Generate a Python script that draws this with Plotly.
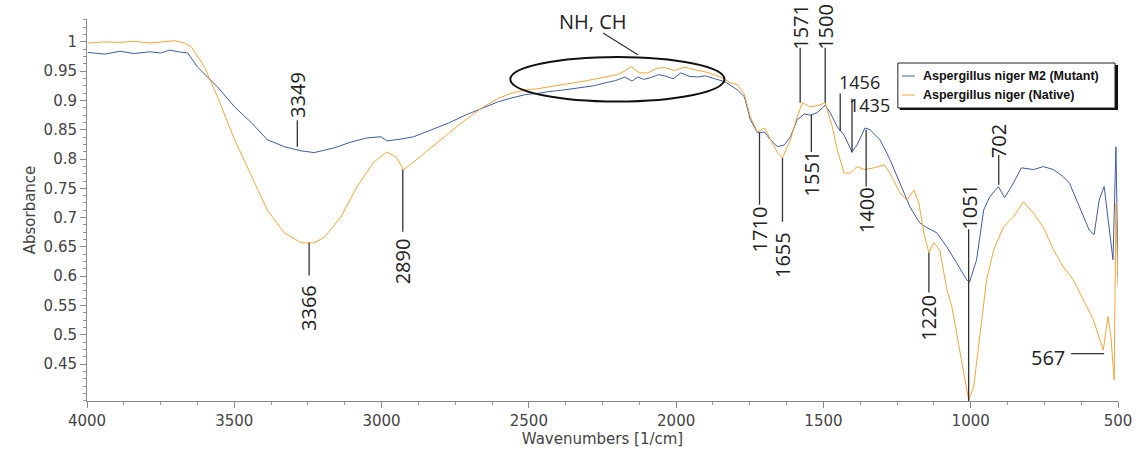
import plotly.graph_objects as go

# ---------------- data ----------------
wn_mutant = [3997, 3940, 3888, 3840, 3787, 3750, 3719, 3690, 3658, 3625, 3557, 3499, 3442, 3388,
             3330, 3273, 3229, 3161, 3104, 3050, 3002, 2982, 2935, 2891, 2830, 2770, 2715, 2660,
             2603, 2560, 2512, 2470, 2434, 2380, 2323, 2280, 2241, 2205, 2174, 2150, 2130, 2110,
             2086, 2060, 2038, 2010, 1984, 1955, 1927, 1900, 1869, 1835, 1792, 1768, 1748, 1724,
             1700, 1680, 1656, 1633, 1612, 1589, 1565, 1545, 1521, 1494, 1477, 1453, 1430, 1403,
             1386, 1359, 1342, 1308, 1274, 1240, 1206, 1173, 1149, 1115, 1081, 1048, 1014, 1004,
             980, 956, 936, 906, 885, 855, 828, 787, 753, 719, 686, 665, 632, 598, 581, 564, 547,
             530, 517, 507, 500]
abs_mutant = [0.982, 0.979, 0.984, 0.980, 0.983, 0.981, 0.986, 0.983, 0.981, 0.957, 0.923, 0.889,
              0.862, 0.833, 0.821, 0.814, 0.811, 0.819, 0.829, 0.836, 0.838, 0.831, 0.834, 0.838,
              0.850, 0.862, 0.875, 0.886, 0.898, 0.904, 0.910, 0.912, 0.915, 0.918, 0.922, 0.925,
              0.930, 0.934, 0.940, 0.933, 0.940, 0.936, 0.939, 0.944, 0.942, 0.937, 0.947, 0.941,
              0.940, 0.942, 0.937, 0.932, 0.918, 0.906, 0.867, 0.845, 0.846, 0.833, 0.821, 0.824,
              0.838, 0.867, 0.877, 0.875, 0.879, 0.892, 0.879, 0.855, 0.841, 0.812, 0.824, 0.853,
              0.850, 0.833, 0.799, 0.759, 0.718, 0.691, 0.683, 0.674, 0.650, 0.623, 0.594, 0.590,
              0.628, 0.713, 0.735, 0.753, 0.734, 0.759, 0.785, 0.782, 0.787, 0.782, 0.770, 0.759,
              0.718, 0.679, 0.671, 0.730, 0.753, 0.679, 0.628, 0.821, 0.599]

wn_native = [3997, 3940, 3888, 3840, 3787, 3740, 3702, 3669, 3645, 3601, 3557, 3499, 3442, 3388,
             3330, 3273, 3229, 3195, 3138, 3083, 3026, 2982, 2952, 2925, 2891, 2830, 2770, 2715,
             2660, 2603, 2560, 2512, 2470, 2434, 2380, 2323, 2280, 2241, 2200, 2175, 2153, 2125,
             2096, 2065, 2038, 2005, 1971, 1935, 1903, 1849, 1815, 1792, 1768, 1748, 1724, 1700,
             1680, 1656, 1639, 1612, 1589, 1572, 1545, 1514, 1494, 1470, 1453, 1430, 1409, 1386,
             1362, 1328, 1294, 1274, 1240, 1217, 1193, 1176, 1159, 1142, 1125, 1105, 1081, 1064,
             1048, 1024, 1007, 990, 970, 946, 922, 889, 855, 821, 787, 753, 719, 686, 652, 618,
             584, 550, 534, 524, 513, 507, 500]
abs_native = [0.998, 1.000, 0.999, 1.001, 0.998, 1.000, 1.002, 0.998, 0.991, 0.957, 0.906, 0.833,
              0.770, 0.713, 0.674, 0.657, 0.657, 0.666, 0.701, 0.753, 0.795, 0.812, 0.804, 0.782,
              0.795, 0.821, 0.845, 0.867, 0.887, 0.904, 0.912, 0.918, 0.920, 0.923, 0.927, 0.932,
              0.936, 0.940, 0.944, 0.950, 0.958, 0.947, 0.947, 0.955, 0.956, 0.951, 0.957, 0.952,
              0.949, 0.940, 0.930, 0.927, 0.910, 0.872, 0.846, 0.853, 0.833, 0.811, 0.802, 0.833,
              0.872, 0.896, 0.889, 0.892, 0.896, 0.855, 0.816, 0.776, 0.776, 0.787, 0.782, 0.785,
              0.790, 0.776, 0.742, 0.730, 0.747, 0.725, 0.674, 0.640, 0.657, 0.645, 0.577, 0.548,
              0.503, 0.435, 0.389, 0.411, 0.491, 0.594, 0.645, 0.684, 0.701, 0.727, 0.708, 0.683,
              0.645, 0.616, 0.594, 0.560, 0.526, 0.474, 0.531, 0.497, 0.423, 0.725, 0.582]

series_names = ["Aspergillus niger M2 (Mutant)", "Aspergillus niger (Native)"]
series_colors = ["#3e5ca8", "#f4a53a"]

x_ticks = [4000, 3500, 3000, 2500, 2000, 1500, 1000, 500]
y_ticks = [0.45, 0.5, 0.55, 0.6, 0.65, 0.7, 0.75, 0.8, 0.85, 0.9, 0.95, 1]
y_tick_text = ["0.45", "0.5", "0.55", "0.6", "0.65", "0.7", "0.75", "0.8", "0.85", "0.9", "0.95", "1"]

# vertical peak labels: text, x, text-centre y, leader line from y_a to y_b
vertical_labels = [
    ("3349", 3286, 0.910, 0.866, 0.821),
    ("3366", 3246, 0.546, 0.657, 0.601),
    ("2890", 2928, 0.625, 0.782, 0.676),
    ("1710", 1717, 0.679, 0.845, 0.722),
    ("1655", 1639, 0.637, 0.802, 0.693),
    ("1571", 1579, 1.026, 0.990, 0.896),
    ("1500", 1494, 1.026, 0.990, 0.896),
    ("1551", 1541, 0.776, 0.875, 0.812),
    ("1400", 1355, 0.713, 0.850, 0.753),
    ("1220", 1142, 0.529, 0.640, 0.572),
    ("1051", 1007, 0.718, 0.680, 0.387),
    ("702", 905, 0.830, 0.807, 0.756),
]
# horizontal peak labels: text, text x, text y, font size
horizontal_labels = [
    ("1456", 1379, 0.931, 18),
    ("1435", 1345, 0.892, 18),
    ("567", 736, 0.462, 20),
]
# extra leader lines (x0, y0, x1, y1)
extra_lines = [
    (1443, 0.912, 1443, 0.848),
    (1403, 0.903, 1403, 0.811),
    (659, 0.468, 547, 0.468),
    (2248, 1.015, 2130, 0.978),
]

fig = go.Figure()
fig.add_trace(go.Scatter(x=wn_mutant, y=abs_mutant, mode="lines", name=series_names[0],
                         line=dict(color=series_colors[0], width=1), showlegend=False))
fig.add_trace(go.Scatter(x=wn_native, y=abs_native, mode="lines", name=series_names[1],
                         line=dict(color=series_colors[1], width=1), showlegend=False))

label_font = dict(family="Open Sans", size=20, color="#222222")
lc = "#333333"
for txt, x, yc, ya, yb in vertical_labels:
    fig.add_annotation(x=x, y=yc, xref="x", yref="y", text=txt, showarrow=False,
                       textangle=-90, font=label_font, xanchor="center", yanchor="middle")
    fig.add_shape(type="line", x0=x, x1=x, y0=ya, y1=yb, xref="x", yref="y",
                  line=dict(color=lc, width=1.3))
for txt, x, y, fs in horizontal_labels:
    fig.add_annotation(x=x, y=y, xref="x", yref="y", text=txt, showarrow=False,
                       font=dict(family="Open Sans", size=fs, color="#222222"),
                       xanchor="center", yanchor="middle", borderpad=0)
for x0, y0, x1, y1 in extra_lines:
    fig.add_shape(type="line", x0=x0, x1=x1, y0=y0, y1=y1, xref="x", yref="y",
                  line=dict(color=lc, width=1.3))

# ellipse around NH, CH region
fig.add_shape(type="circle", x0=2563, x1=1836, y0=0.898, y1=0.974, xref="x", yref="y",
              line=dict(color="#111111", width=2))
fig.add_annotation(x=2282, y=1.034, xref="x", yref="y", text="NH, CH", showarrow=False,
                   font=label_font, xanchor="center", yanchor="middle")

# manual legend (pixel-converted paper coords)
def px(xp):
    return (xp - 87) / 1035.0
def py(yp):
    return (401 - yp) / 382.0

fig.add_shape(type="rect", xref="paper", yref="paper", x0=px(903), x1=px(1122), y0=py(110), y1=py(65),
              line=dict(width=0), fillcolor="#111111")
fig.add_shape(type="rect", xref="paper", yref="paper", x0=px(901), x1=px(1119), y0=py(108), y1=py(63),
              line=dict(color="#222222", width=1), fillcolor="white")
leg_font = dict(family="Liberation Sans", size=12.5, color="#111111")
for i, yrow in enumerate([76, 95]):
    fig.add_shape(type="line", xref="paper", yref="paper", x0=px(905), x1=px(918),
                  y0=py(yrow), y1=py(yrow), line=dict(color=series_colors[i], width=1))
    fig.add_annotation(xref="paper", yref="paper", x=px(924), y=py(yrow),
                       text="<b>" + series_names[i] + "</b>", showarrow=False,
                       xanchor="left", yanchor="middle", font=leg_font)

axis_font = dict(family="DejaVu Sans", size=15, color="#444444")
fig.update_layout(
    width=1144, height=455,
    margin=dict(l=87, r=22, t=19, b=54),
    paper_bgcolor="white", plot_bgcolor="white",
    showlegend=False,
    xaxis=dict(range=[4000, 500], tickvals=x_ticks, ticks="outside", ticklen=6,
               tickcolor="#888888", showline=True, linecolor="#888888", linewidth=1,
               showgrid=False, zeroline=False, tickfont=axis_font,
               minor=dict(dtick=125, ticks="outside", ticklen=3, tickcolor="#999999", showgrid=False),
               title=dict(text="Wavenumbers [1/cm]", font=axis_font, standoff=2)),
    yaxis=dict(range=[0.387, 1.039], tickvals=y_ticks, ticktext=y_tick_text, ticks="outside",
               ticklen=6, tickcolor="#888888", showline=True, linecolor="#888888", linewidth=1,
               showgrid=False, zeroline=False, tickfont=axis_font,
               minor=dict(dtick=0.0125, ticks="outside", ticklen=3, tickcolor="#999999", showgrid=False),
               title=dict(text="Absorbance", font=axis_font, standoff=4)),
)

fig.write_html("out.html")
